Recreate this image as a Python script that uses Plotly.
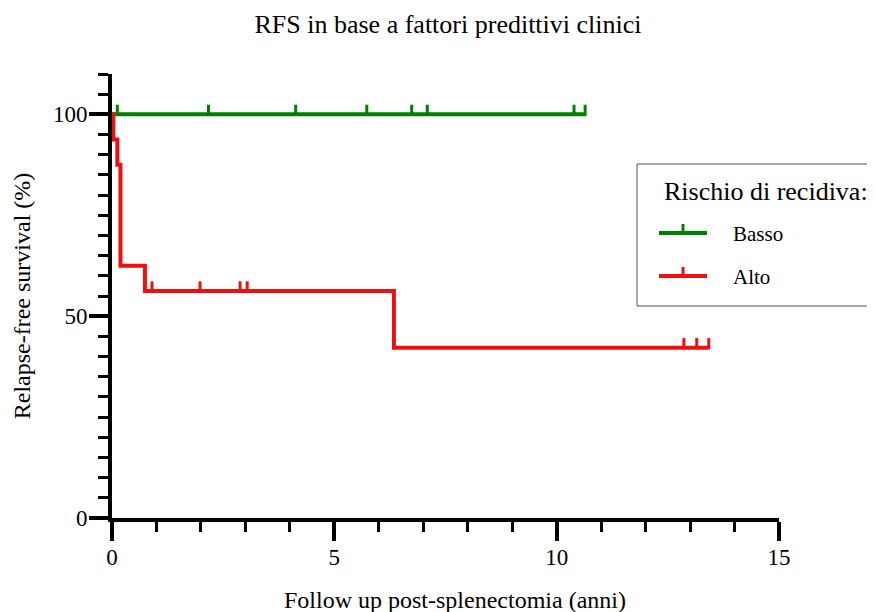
import plotly.graph_objects as go

# ---------------- data ----------------
title_text = "RFS in base a fattori predittivi clinici"
x_title = "Follow up post-splenectomia (anni)"
y_title = "Relapse-free survival (%)"
legend_title = "Rischio di recidiva:"
series_names = ["Basso", "Alto"]

# Kaplan-Meier step curves (time in years, survival %)
basso_times = [0.0, 10.66]
basso_surv = [100.0, 100.0]
basso_censor = [0.12, 2.17, 4.13, 5.73, 6.74, 7.09, 10.39, 10.64]

alto_times = [0.0, 0.03, 0.12, 0.19, 0.74, 6.34, 13.42]
alto_surv = [100.0, 93.75, 87.5, 62.5, 56.25, 42.19, 42.19]
alto_censor = [0.90, 1.98, 2.88, 3.04, 12.86, 13.15, 13.42]

x_tickvals = [0, 5, 10, 15]
y_tickvals = [0, 50, 100]

GREEN = "rgb(0,128,0)"
RED = "rgb(238,16,16)"
FONT = "Times New Roman, Liberation Serif, serif"
OFF = 8  # page body margin


def surv_at(t, times, surv):
    val = surv[0]
    for tt, s in zip(times, surv):
        if tt <= t:
            val = s
    return val


fig = go.Figure()

for name, times, surv, cens, col in [
    (series_names[0], basso_times, basso_surv, basso_censor, GREEN),
    (series_names[1], alto_times, alto_surv, alto_censor, RED),
]:
    fig.add_trace(go.Scatter(
        x=times, y=surv, mode="lines", line=dict(color=col, width=4, shape="hv"),
        name=name, showlegend=False, hoverinfo="skip"))
    cy = [surv_at(t, times, surv) + 1.0 for t in cens]
    fig.add_trace(go.Scatter(
        x=cens, y=cy, mode="markers",
        marker=dict(symbol="line-ns", size=8, line=dict(color=col, width=3)),
        showlegend=False, hoverinfo="skip"))

# plot area in page pixels (reference), converted to figure pixels
L, R_, T, B = 112 - OFF, 779 - OFF, 74 - OFF, 518 - OFF


def px(xp):
    return (xp - OFF - L) / (R_ - L)


def py(yp):
    return (B - (yp - OFF)) / (B - T)


shapes = [
    dict(type="rect", xref="paper", yref="paper", x0=px(637), x1=px(900), y0=py(306), y1=py(164),
         line=dict(color="#555555", width=1), fillcolor="white", layer="above"),
]
for name, col, yy in [(series_names[0], GREEN, 233), (series_names[1], RED, 276)]:
    shapes.append(dict(type="line", xref="paper", yref="paper", x0=px(659), x1=px(707),
                       y0=py(yy), y1=py(yy), line=dict(color=col, width=4)))
    shapes.append(dict(type="line", xref="paper", yref="paper", x0=px(683), x1=px(683),
                       y0=py(yy), y1=py(yy - 9), line=dict(color=col, width=3)))

annotations = [
    dict(text=legend_title, xref="paper", yref="paper", x=px(662), y=py(191), xanchor="left",
         yanchor="middle", showarrow=False, font=dict(family=FONT, size=26, color="black")),
    dict(text=series_names[0], xref="paper", yref="paper", x=px(731), y=py(234), xanchor="left",
         yanchor="middle", showarrow=False, font=dict(family=FONT, size=21, color="black")),
    dict(text=series_names[1], xref="paper", yref="paper", x=px(731), y=py(277), xanchor="left",
         yanchor="middle", showarrow=False, font=dict(family=FONT, size=21, color="black")),
    dict(text=x_title, xref="paper", yref="paper", x=px(455), y=py(600), xanchor="center",
         yanchor="middle", showarrow=False, font=dict(family=FONT, size=24, color="black")),
]

fig.update_layout(
    width=875, height=612,
    margin=dict(l=L, r=875 - R_, t=T, b=612 - B, autoexpand=False),
    paper_bgcolor="white", plot_bgcolor="white",
    title=dict(text=title_text, x=(448 - OFF) / 875, xanchor="center", y=1 - (24 - OFF) / 612,
               yanchor="middle", font=dict(family=FONT, size=26, color="black")),
    shapes=shapes, annotations=annotations,
    showlegend=False,
)

fig.update_xaxes(
    range=[0, 15], tickvals=x_tickvals, ticktext=[str(v) for v in x_tickvals],
    showgrid=False, zeroline=False, showline=True, linewidth=4, linecolor="black",
    ticks="outside", ticklen=19, tickwidth=4, tickcolor="black",
    minor=dict(dtick=1, ticks="outside", ticklen=10, tickwidth=3, tickcolor="black", showgrid=False),
    tickfont=dict(family=FONT, size=23, color="black"),
    ticklabelstandoff=-4,
    fixedrange=True,
)
fig.update_yaxes(
    range=[0, 110], tickvals=y_tickvals, ticktext=[str(v) for v in y_tickvals],
    showgrid=False, zeroline=False, showline=True, linewidth=4, linecolor="black",
    ticks="outside", ticklen=19, tickwidth=4, tickcolor="black",
    minor=dict(dtick=5, tick0=0, ticks="outside", ticklen=10, tickwidth=3, tickcolor="black", showgrid=False),
    tickfont=dict(family=FONT, size=23, color="black"),
    ticklabelstandoff=-3,
    title=dict(text=y_title, font=dict(family=FONT, size=24, color="black"), standoff=17),
    fixedrange=True,
)

fig.write_html("out.html")
